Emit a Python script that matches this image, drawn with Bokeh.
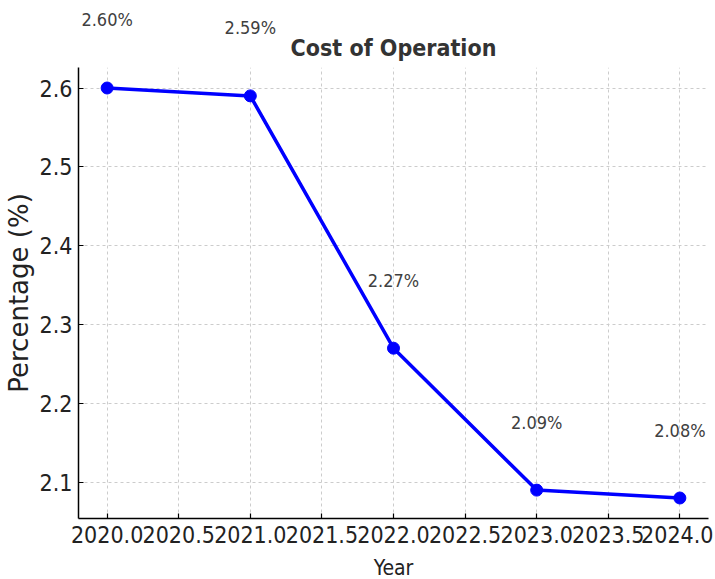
from bokeh.plotting import figure
from bokeh.layouts import column
from bokeh.models import ColumnDataSource, Label, FixedTicker, PrintfTickFormatter, Range1d
from bokeh.embed import file_html
from bokeh.resources import INLINE

title_text = "Cost of Operation"
years = [2020, 2021, 2022, 2023, 2024]
cost_pct = [2.60, 2.59, 2.27, 2.09, 2.08]
x_ticks = [2020.0, 2020.5, 2021.0, 2021.5, 2022.0, 2022.5, 2023.0, 2023.5, 2024.0]
y_ticks = [2.1, 2.2, 2.3, 2.4, 2.5, 2.6]
point_labels = [f"{v:.2f}%" for v in cost_pct]

# axes extent (matplotlib-like 5% margins) and headroom strip for the labels / title
X_LO, X_HI = 2019.8, 2024.2
Y_LO, Y_HI = 2.054, 2.626
Y_VIEW_TOP = 2.7008
MAIN_H, TOP_H = 451, 59
LABEL_OFFSET_PX = 68

COND = "DejaVu Sans Condensed"

src = ColumnDataSource(dict(x=years, y=cost_pct, label=point_labels))
x_range = Range1d(X_LO, X_HI)

# main axes
p = figure(frame_width=630, frame_height=MAIN_H, output_backend="svg", toolbar_location=None,
           x_range=x_range, y_range=Range1d(Y_LO, Y_HI),
           min_border_left=70, min_border_top=0, min_border_right=5, min_border_bottom=40)

# headroom strip above the axes (same x scale, continuing y scale)
top = figure(frame_width=630, frame_height=TOP_H, output_backend="svg", toolbar_location=None,
             x_range=x_range, y_range=Range1d(Y_HI, Y_VIEW_TOP),
             min_border_left=70, min_border_top=8, min_border_right=5, min_border_bottom=0,
             x_axis_type=None, y_axis_type=None)
top.grid.visible = False
top.outline_line_color = None

p.line("x", "y", source=src, line_color="#0000ff", line_width=3.5)
p.scatter("x", "y", source=src, size=12, fill_color="#0000ff", line_color="#0000ff")

# value labels, a fixed pixel distance above each point
units_per_px = (Y_HI - Y_LO) / MAIN_H
for xv, yv, txt in zip(years, cost_pct, point_labels):
    ly = yv + LABEL_OFFSET_PX * units_per_px
    target = top if ly > Y_HI else p
    target.add_layout(Label(x=xv, y=ly, text=txt, x_units="data", y_units="data",
                            text_align="center", text_baseline="middle",
                            text_font=COND, text_font_size="18px", text_color="#404040"))

# title, just above the axes box
top.add_layout(Label(x=(X_LO + X_HI) / 2, y=Y_HI, text=title_text, x_units="data", y_units="data",
                     y_offset=20, text_align="center", text_baseline="middle",
                     text_font=COND, text_font_size="23px", text_font_style="bold",
                     text_color="#333333"))

for ax in (p.xaxis[0], p.yaxis[0]):
    ax.axis_line_color = "#000000"
    ax.axis_line_width = 1.5
    ax.major_tick_in = 5
    ax.major_tick_out = 0
    ax.minor_tick_line_color = None
    ax.major_tick_line_color = "#000000"
    ax.major_tick_line_width = 1.2
    ax.major_label_text_font = COND
    ax.major_label_text_font_size = "23px"
    ax.major_label_text_color = "#222222"
    ax.axis_label_text_font = COND
    ax.axis_label_text_font_style = "normal"
    ax.axis_label_text_color = "#222222"

p.xaxis[0].ticker = FixedTicker(ticks=x_ticks)
p.xaxis[0].formatter = PrintfTickFormatter(format="%.1f")
p.xaxis[0].axis_label = "Year"
p.xaxis[0].axis_label_text_font_size = "21px"
p.xaxis[0].major_label_standoff = 7
p.xaxis[0].axis_label_standoff = 10

p.yaxis[0].ticker = FixedTicker(ticks=y_ticks)
p.yaxis[0].formatter = PrintfTickFormatter(format="%.1f")
p.yaxis[0].axis_label = "Percentage (%)"
p.yaxis[0].axis_label_text_font = "DejaVu Sans"
p.yaxis[0].axis_label_text_font_size = "26px"
p.yaxis[0].major_label_standoff = 6
p.yaxis[0].axis_label_standoff = 3

p.xgrid.ticker = FixedTicker(ticks=x_ticks)
p.ygrid.ticker = FixedTicker(ticks=y_ticks)
p.grid.grid_line_color = "#cccccc"
p.grid.grid_line_dash = "3 3"
p.grid.grid_line_width = 1
p.outline_line_color = None
for fig in (p, top):
    fig.background_fill_color = "white"
    fig.border_fill_color = "white"

layout = column(top, p, spacing=0)
open("out.html", "w").write(file_html(layout, INLINE))
